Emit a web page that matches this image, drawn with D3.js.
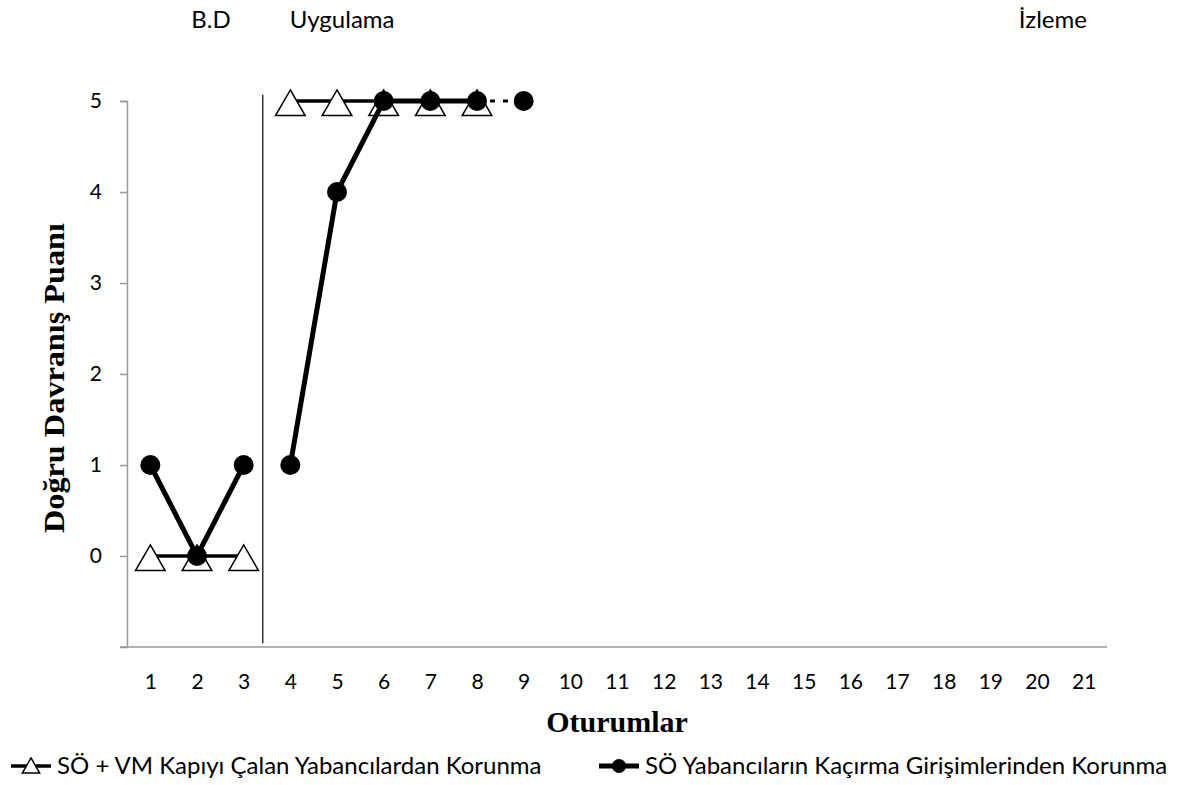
<!DOCTYPE html>
<html>
<head>
<meta charset="utf-8">
<title>Doğru Davranış Puanı</title>
<script src="https://cdn.jsdelivr.net/npm/d3@7"></script>
<style>
  body { margin: 0; background: #fff; }
  .lbl { font-family: Lato, "Open Sans", sans-serif; fill: #000; }
  .ttl { font-family: "Liberation Serif", "DejaVu Serif", serif; font-weight: bold; fill: #000; }
</style>
</head>
<body>
<svg width="1200" height="785"></svg>
<script>
// sessions on the x axis
var sessions = d3.range(1, 22);
var yTicks = [0, 1, 2, 3, 4, 5];

// series 1: SÖ + VM Kapıyı Çalan Yabancılardan Korunma
var triBaseX = [1, 2, 3], triBaseY = [0, 0, 0];
var triIntX = [4, 5, 6, 7, 8], triIntY = [5, 5, 5, 5, 5];

// series 2: SÖ Yabancıların Kaçırma Girişimlerinden Korunma
var dotBaseX = [1, 2, 3], dotBaseY = [1, 0, 1];
var dotIntX = [4, 5, 6, 7, 8], dotIntY = [1, 4, 5, 5, 5];
var dotFollowX = [8, 9], dotFollowY = [5, 5];

var phaseLine = 3.41;
var phaseNames = ["B.D", "Uygulama", "İzleme"];
var phaseAt = [2.3, 5.11, 20.34];

var legendNames = ["SÖ + VM Kapıyı Çalan Yabancılardan Korunma",
                   "SÖ Yabancıların Kaçırma Girişimlerinden Korunma"];

var svg = d3.select("svg");

var x = d3.scaleLinear().domain([0.5, 21.5]).range([127, 1107]);
var y = d3.scaleLinear().domain([-1, 5]).range([647, 101]);

// axes
var yAxis = svg.append("g").attr("transform", "translate(127,0)")
    .call(d3.axisLeft(y).tickValues(yTicks).tickFormat(d3.format("d")).tickSize(7).tickPadding(18));
yAxis.select(".domain").attr("stroke", "#999").attr("stroke-width", 1.5);
yAxis.selectAll(".tick line").attr("stroke", "#999").attr("stroke-width", 1.5);
yAxis.selectAll(".tick text").attr("class", "lbl").style("font-size", "21px");

var xAxis = svg.append("g").attr("transform", "translate(0,647)")
    .call(d3.axisBottom(x).tickValues(sessions).tickSize(0).tickPadding(26));
xAxis.select(".domain").attr("stroke", "#999").attr("stroke-width", 1.5)
    .attr("d", "M120,0H" + x.range()[1]);
xAxis.selectAll(".tick text").attr("class", "lbl").style("font-size", "21px").attr("dy", "0.75em");

// phase change line
svg.append("line")
    .attr("x1", x(phaseLine)).attr("x2", x(phaseLine))
    .attr("y1", y(5.07)).attr("y2", y(-0.96))
    .attr("stroke", "#000").attr("stroke-width", 1.2);

// phase names
svg.selectAll(".phase").data(phaseNames).enter().append("text")
    .attr("class", "lbl")
    .attr("x", function(d, i) { return x(phaseAt[i]); })
    .attr("y", 28)
    .attr("text-anchor", "middle")
    .style("font-size", "24px")
    .text(function(d) { return d; });

var line = d3.line().x(function(d) { return x(d[0]); }).y(function(d) { return y(d[1]); });
function pts(xs, ys) { return xs.map(function(v, i) { return [v, ys[i]]; }); }

var triSym = d3.symbol().type(d3.symbolTriangle).size(380);

// lines
svg.append("path").datum(pts(triBaseX, triBaseY)).attr("d", line)
    .attr("fill", "none").attr("stroke", "#000").attr("stroke-width", 3.5);
svg.append("path").datum(pts(triIntX, triIntY)).attr("d", line)
    .attr("fill", "none").attr("stroke", "#000").attr("stroke-width", 3.5);

// triangles
svg.selectAll(".tri").data(pts(triBaseX, triBaseY).concat(pts(triIntX, triIntY)))
  .enter().append("path")
    .attr("d", triSym)
    .attr("transform", function(d) { return "translate(" + x(d[0]) + "," + (y(d[1]) + 6) + ")"; })
    .attr("fill", "#fff").attr("stroke", "#000").attr("stroke-width", 1.5);

svg.append("path").datum(pts(dotBaseX, dotBaseY)).attr("d", line)
    .attr("fill", "none").attr("stroke", "#000").attr("stroke-width", 5);
svg.append("path").datum(pts(dotIntX, dotIntY)).attr("d", line)
    .attr("fill", "none").attr("stroke", "#000").attr("stroke-width", 5);
svg.append("path").datum(pts(dotFollowX, dotFollowY)).attr("d", line)
    .attr("fill", "none").attr("stroke", "#000").attr("stroke-width", 3)
    .attr("stroke-dasharray", "5,8");

svg.selectAll(".dot").data(pts(dotBaseX, dotBaseY).concat(pts(dotIntX, dotIntY), [pts(dotFollowX, dotFollowY)[1]]))
  .enter().append("circle")
    .attr("cx", function(d) { return x(d[0]); })
    .attr("cy", function(d) { return y(d[1]); })
    .attr("r", 10).attr("fill", "#000");

// axis titles
svg.append("text").attr("class", "ttl")
    .attr("transform", "translate(64,378) rotate(-90)")
    .attr("text-anchor", "middle").style("font-size", "29px")
    .attr("textLength", 310).attr("lengthAdjust", "spacingAndGlyphs")
    .text("Doğru Davranış Puanı");
svg.append("text").attr("class", "ttl")
    .attr("x", 617).attr("y", 732)
    .attr("text-anchor", "middle").style("font-size", "30px")
    .text("Oturumlar");

// legend
var leg = svg.append("g");
var legX = [11, 599];
legendNames.forEach(function(name, i) {
  var g = leg.append("g").attr("transform", "translate(" + legX[i] + ",766)");
  g.append("line").attr("x1", 0).attr("x2", 40).attr("y1", 0).attr("y2", 0)
      .attr("stroke", "#000").attr("stroke-width", i === 0 ? 3.5 : 5);
  if (i === 0) {
    g.append("path").attr("d", d3.symbol().type(d3.symbolTriangle).size(130))
        .attr("transform", "translate(20,2)")
        .attr("fill", "#fff").attr("stroke", "#000").attr("stroke-width", 1.5);
  } else {
    g.append("circle").attr("cx", 20).attr("cy", 0).attr("r", 7).attr("fill", "#000");
  }
  g.append("text").attr("class", "lbl").attr("x", 46).attr("y", 8)
      .style("font-size", "24px").text(name);
});
</script>
</body>
</html>
